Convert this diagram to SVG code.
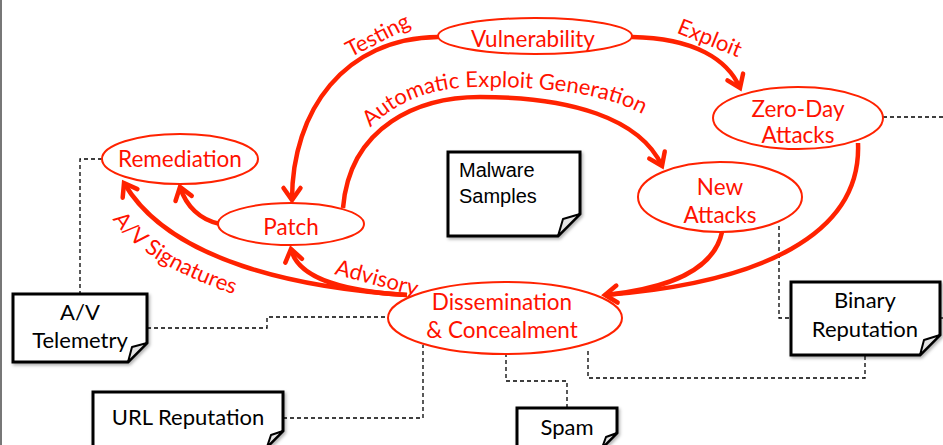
<svg xmlns="http://www.w3.org/2000/svg" width="943" height="445" viewBox="0 0 943 445">
<style>
.node{fill:#fff;stroke:#ff2200;stroke-width:2}
.rt{font-family:Lato,"Open Sans",sans-serif;font-size:22.5px;fill:#ff1100;text-anchor:middle}
.lt{font-family:Lato,"Open Sans",sans-serif;font-size:22px;fill:#ff1100;text-anchor:middle}
.bt{font-family:Lato,"Open Sans",sans-serif;font-size:22px;fill:#000;text-anchor:middle}
.mt{font-family:"Liberation Sans",Arial,sans-serif;font-size:20px;fill:#000}
.doc{fill:#fff;stroke:#000;stroke-width:3;stroke-linejoin:miter}
.fold{fill:#e4e4e4;stroke:#000;stroke-width:2;stroke-linejoin:round}
.arr{fill:none;stroke:#ff2200;stroke-width:4.5;marker-end:url(#ah)}
.arrn{fill:none;stroke:#ff2200;stroke-width:4.5}
.dash{fill:none;stroke:#000;stroke-width:1.3;stroke-dasharray:4 3}
</style>
<defs>
<marker id="ah" markerUnits="userSpaceOnUse" viewBox="-16 -12 20 24" refX="0" refY="0" markerWidth="20" markerHeight="24" orient="auto" overflow="visible">
<path d="M-12,-8.5 L0,0 L-12,8.5" fill="none" stroke="#ff2200" stroke-width="4.5" stroke-linecap="round"/>
</marker>
<filter id="sh" x="-10%" y="-10%" width="125%" height="130%">
<feDropShadow dx="1.5" dy="2" stdDeviation="1.5" flood-color="#000" flood-opacity="0.3"/>
</filter>
<path id="pAEG" d="M366,132 C400,96 440,87 480,87 C560,87 612,96 648,117"/>
<path id="pAVS" d="M108,212 C126,244 168,273 242,297"/>
</defs>
<line x1="1" y1="0" x2="1" y2="445" stroke="#777" stroke-width="2"/>

<g id="connectors">
<path class="dash" d="M102,159 H80 V294"/>
<path class="dash" d="M147,328 H267 V317 H388"/>
<path class="dash" d="M283,418 H423 V345"/>
<path class="dash" d="M506,353 V381 H567 V408"/>
<path class="dash" d="M588,351 V378 H865 V355"/>
<path class="dash" d="M779,226 V318 H791"/>
<path class="dash" d="M940,318 H943"/>
<path class="dash" d="M883,117 H943"/>
<path class="arr" d="M438,37 C345,38 292,110 292,200"/>
<path class="arr" d="M632,37 C695,38 728,60 740,88"/>
<path class="arr" d="M343,208 C350,125 420,97 480,97 C570,97 640,118 662,166"/>
<path class="arr" d="M220,224 C200,220 186,206 180,187"/>
<path class="arr" d="M407,295 C300,288 170,262 124,183"/>
<path class="arr" d="M407,295 C350,292 298,280 291,249"/>
<path class="arr" d="M858,143 C862,235 760,283 605,295"/>
<path class="arrn" d="M722,232 C714,270 670,288 606,295"/>
<text class="lt" transform="translate(381,42) rotate(-27)">Testing</text>
<text class="lt" transform="translate(707,45) rotate(22)">Exploit</text>
<text class="lt" transform="translate(375,285) rotate(15)">Advisory</text>
<text class="lt"><textPath href="#pAEG" startOffset="50%">Automatic Exploit Generation</textPath></text>
<text class="lt"><textPath href="#pAVS" startOffset="50%">A/V Signatures</textPath></text>
</g>

<g id="vulnerability">
<ellipse class="node" cx="535" cy="36" rx="97" ry="18"/>
<text class="rt" x="533" y="47">Vulnerability</text>
</g>
<g id="zero-day">
<ellipse class="node" cx="798" cy="118" rx="85" ry="31"/>
<text class="rt" x="798" y="117">Zero-Day</text>
<text class="rt" x="798" y="143">Attacks</text>
</g>
<g id="new-attacks">
<ellipse class="node" cx="720" cy="197" rx="82" ry="35"/>
<text class="rt" x="720" y="195">New</text>
<text class="rt" x="720" y="223">Attacks</text>
</g>
<g id="remediation">
<ellipse class="node" cx="180" cy="159" rx="78" ry="25"/>
<text class="rt" x="180" y="167">Remediation</text>
</g>
<g id="patch">
<ellipse class="node" cx="291" cy="224" rx="73" ry="21"/>
<text class="rt" x="291" y="235">Patch</text>
</g>
<g id="dissemination">
<ellipse class="node" cx="505" cy="318" rx="117" ry="36"/>
<text class="rt" x="502" y="310">Dissemination</text>
<text class="rt" x="502" y="338">&amp; Concealment</text>
</g>

<g id="malware-samples">
<path class="doc" filter="url(#sh)" d="M448,152 H580 V214 L558,236 H448 Z"/>
<path class="fold" d="M558,236 L563,219 L580,214 Z"/>
<text class="mt" x="459" y="177">Malware</text>
<text class="mt" x="459" y="203">Samples</text>
</g>
<g id="av-telemetry">
<path class="doc" filter="url(#sh)" d="M13,294 H147 V343 L128,362 H13 Z"/>
<path class="fold" d="M128,362 L132,347 L147,343 Z"/>
<text class="bt" x="80" y="320">A/V</text>
<text class="bt" x="80" y="348">Telemetry</text>
</g>
<g id="url-reputation">
<path class="doc" filter="url(#sh)" d="M93,392 H283 V431 L267,447 H93 Z"/>
<path class="fold" d="M267,447 L271,435 L283,431 Z"/>
<text class="bt" x="188" y="425">URL Reputation</text>
</g>
<g id="spam">
<path class="doc" filter="url(#sh)" d="M517,408 H617 V433 L602,448 H517 Z"/>
<path class="fold" d="M602,448 L606,437 L617,433 Z"/>
<text class="bt" x="567" y="435">Spam</text>
</g>
<g id="binary-reputation">
<path class="doc" filter="url(#sh)" d="M791,282 H940 V335 L920,355 H791 Z"/>
<path class="fold" d="M920,355 L924,340 L940,335 Z"/>
<text class="bt" x="865" y="308">Binary</text>
<text class="bt" x="865" y="337">Reputation</text>
</g>
</svg>
